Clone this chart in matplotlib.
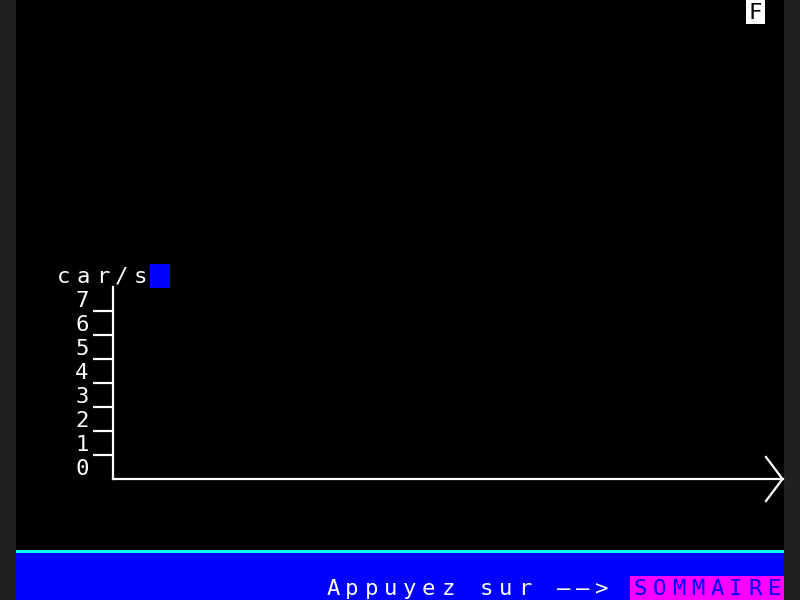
import matplotlib
matplotlib.use("Agg")
import matplotlib.pyplot as plt
from matplotlib.patches import Rectangle
from matplotlib.lines import Line2D

# ---- data ----
unit_label = "car/s"
y_tick_values = [1, 2, 3, 4, 5, 6, 7]
y_label_texts = ["0", "1", "2", "3", "4", "5", "6", "7"]
y_max = 8
series_values = []          # the graph is empty on this screen
footer_text = "Appuyez sur \u2014\u2014>"
footer_key = "SOMMAIRE"
corner_flag = "F"

W, H = 800, 600
BG_OUT = "#202020"
BLUE = "#0000ff"
CYAN = "#00ffff"
MAGENTA = "#ff00ff"
WHITE = "#ffffff"
COL0, CW, RH = 16.0, 19.2, 24.0
FONT = "DejaVu Sans Mono"
FS = 16

fig = plt.figure(figsize=(8, 6), dpi=100, facecolor=BG_OUT)

# pixel-space canvas axes (top-left origin)
bg = fig.add_axes([0, 0, 1, 1])
bg.set_xlim(0, W)
bg.set_ylim(H, 0)
bg.axis("off")
bg.add_patch(Rectangle((16, 0), 768, 600, facecolor="black", edgecolor="none"))
bg.add_patch(Rectangle((16, 550), 768, 2.5, facecolor=CYAN, edgecolor="none"))
bg.add_patch(Rectangle((16, 552.5), 768, 47.5, facecolor=BLUE, edgecolor="none"))


def cells(text, col, row, color, bgcolor=None, fs=FS, weight="normal"):
    """Draw a string on the Minitel character grid (one cell per character)."""
    if bgcolor is not None:
        bg.add_patch(Rectangle((COL0 + col * CW, row * RH), CW * len(text), RH,
                               facecolor=bgcolor, edgecolor="none", zorder=1))
    for i, ch in enumerate(text):
        if ch == " ":
            continue
        bg.text(COL0 + (col + i + 0.5) * CW, row * RH + RH / 2 + 1, ch,
                color=color, fontsize=fs, family=FONT, weight=weight,
                ha="center", va="center", zorder=3)


# unit label + blue cursor block
cells(unit_label, 2, 11, WHITE)
bg.add_patch(Rectangle((COL0 + 7 * CW, 11 * RH), CW, RH, facecolor=BLUE,
                       edgecolor="none"))

# top-right flag
cells(corner_flag, 38, 0, "black", bgcolor=WHITE)

# footer
cells(footer_text, 16, 24, WHITE)
cells(footer_key, 32, 24, BLUE, bgcolor=MAGENTA)

# ---- chart axes (data space) ----
x0, x1 = 113, 783
y_bot, y_top = 479, 479 - RH * y_max
ax = fig.add_axes([x0 / W, (H - y_bot) / H, (x1 - x0) / W, (y_bot - y_top) / H])
ax.set_facecolor("none")
ax.set_ylim(0, y_max)
ax.set_xlim(0, 1)
for s in ("top", "right"):
    ax.spines[s].set_visible(False)
for s in ("left", "bottom"):
    ax.spines[s].set_color(WHITE)
    ax.spines[s].set_linewidth(1.6)
ax.set_xticks([])
ax.set_yticks(y_tick_values)
ax.set_yticklabels([])
ax.tick_params(axis="y", which="major", direction="out", length=14.4,
               width=1.6, color=WHITE)
ax.set_yticks([i + 0.5 for i in range(len(y_label_texts))], minor=True)
ax.set_yticklabels(y_label_texts, minor=True, color=WHITE, fontsize=FS,
                   family=FONT)
ax.tick_params(axis="y", which="minor", length=0, pad=17.5)
if series_values:
    ax.plot(range(len(series_values)), series_values, color=WHITE)

# arrowhead at end of x axis
bg.add_line(Line2D([766, 782.5, 766], [457, 479, 501], color=WHITE, lw=1.6))

fig.savefig("out.png", dpi=100, facecolor=BG_OUT)
